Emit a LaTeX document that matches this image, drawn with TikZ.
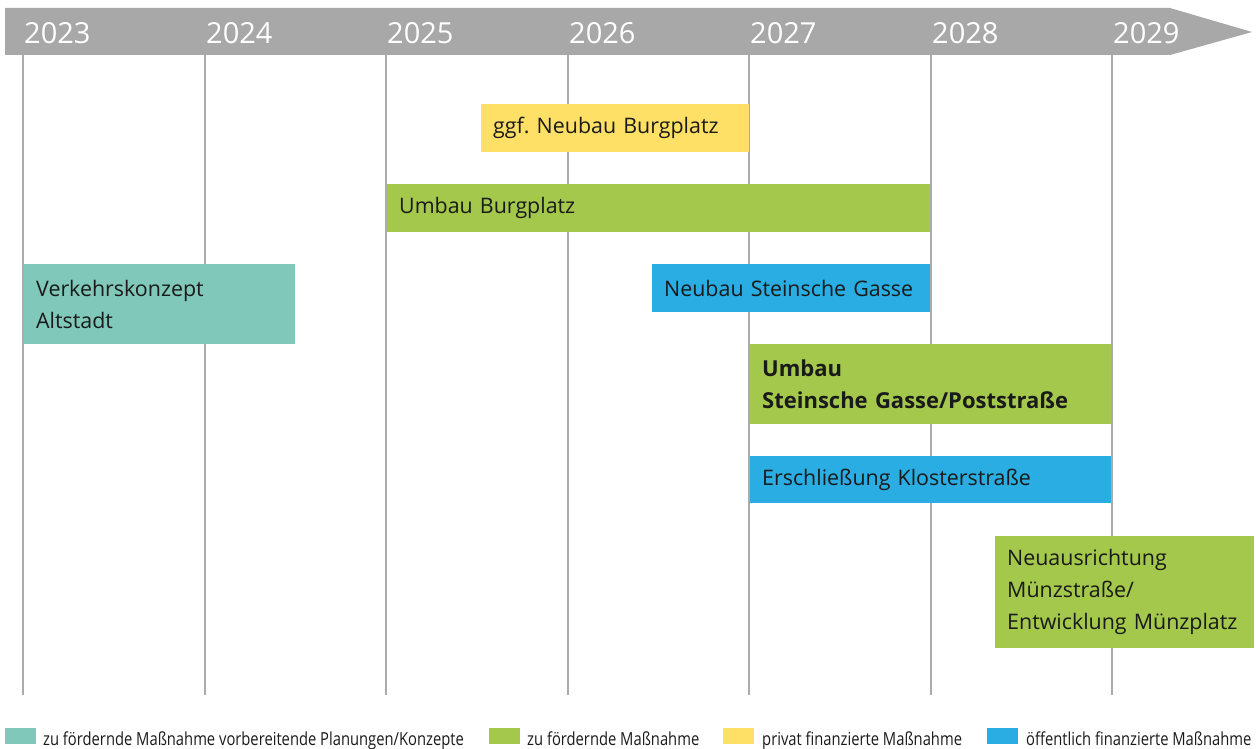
\documentclass[tikz,border=0pt]{standalone}
\usepackage{fontspec}
\setmainfont{Open Sans}
\newfontfamily\legfont[FakeStretch=0.82]{Open Sans}
\definecolor{hdr}{HTML}{A8A8A8}
\definecolor{gridc}{HTML}{ABABAB}
\definecolor{cteal}{HTML}{7FC8BA}
\definecolor{cgreen}{HTML}{A3C84B}
\definecolor{cyellow}{HTML}{FFE066}
\definecolor{cblue}{HTML}{29ADE3}
\definecolor{txt}{HTML}{1A1A1A}
\begin{document}
\frenchspacing
\begin{tikzpicture}[x=1pt,y=-1pt,
  yearlbl/.style={anchor=base west,inner sep=0pt,text=white,font=\fontsize{29}{29}\selectfont},
  gridline/.style={draw=gridc,line width=2.2pt},
  bar/.style={anchor=north west,inner xsep=12pt,inner ysep=0pt,align=left,text=txt,
    font=\fontsize{21.4}{32}\selectfont},
  legbox/.style={anchor=north west,inner sep=0pt,minimum width=31pt,minimum height=16pt},
  legtxt/.style={anchor=base west,inner sep=0pt,text=txt,font=\legfont\fontsize{18}{18}\selectfont}
]
\useasboundingbox (0,0) rectangle (1258,749);
% header arrow
\fill[hdr] (5,8) -- (1170,8) -- (1252,32) -- (1170,55) -- (5,55) -- cycle;
% grid lines and years
\foreach \x/\yr [count=\i] in {23/2023,205/2024,386/2025,568/2026,749/2027,931/2028,1112/2029}{
  \coordinate (g\i) at (\x,55);
  \draw[gridline] (g\i) -- ++(0,640);
  \node[yearlbl] (y\i) at (\x+1,44) {\yr};
}
% bars
\node[bar,fill=cyellow,text width=244pt,minimum height=48pt] (b1) at (481,104) {ggf. Neubau Burgplatz};
\node[bar,fill=cgreen,text width=519pt,minimum height=48pt] (b2) at (387,184) {Umbau Burgplatz};
\node[bar,fill=cteal,text width=247pt,minimum height=80pt] (b3) at (24,264) {Verkehrskonzept\\Altstadt};
\node[bar,fill=cblue,text width=254pt,minimum height=48pt] (b4) at (652,264) {Neubau Steinsche Gasse};
\node[bar,fill=cgreen,text width=337pt,minimum height=80pt,font=\fontsize{22}{32}\selectfont\bfseries] (b5) at (750,344) {Umbau\\Steinsche Gasse/Poststraße};
\node[bar,fill=cblue,text width=337pt,minimum height=47pt] (b6) at (750,456) {Erschließung Klosterstraße};
\node[bar,fill=cgreen,text width=235pt,minimum height=112pt] (b7) at (995,536) {Neuausrichtung\\Münzstraße/\\Entwicklung Münzplatz};
% legend
\node[legbox,fill=cteal] (l1) at (5,728) {};
\node[legtxt] (t1) at (43,745) {zu fördernde Maßnahme vorbereitende Planungen/Konzepte};
\node[legbox,fill=cgreen] (l2) at (489,728) {};
\node[legtxt] (t2) at (527,745) {zu fördernde Maßnahme};
\node[legbox,fill=cyellow] (l3) at (723,728) {};
\node[legtxt] (t3) at (762,745) {privat finanzierte Maßnahme};
\node[legbox,fill=cblue] (l4) at (987,728) {};
\node[legtxt] (t4) at (1026,745) {öffentlich finanzierte Maßnahme};
\end{tikzpicture}
\end{document}
